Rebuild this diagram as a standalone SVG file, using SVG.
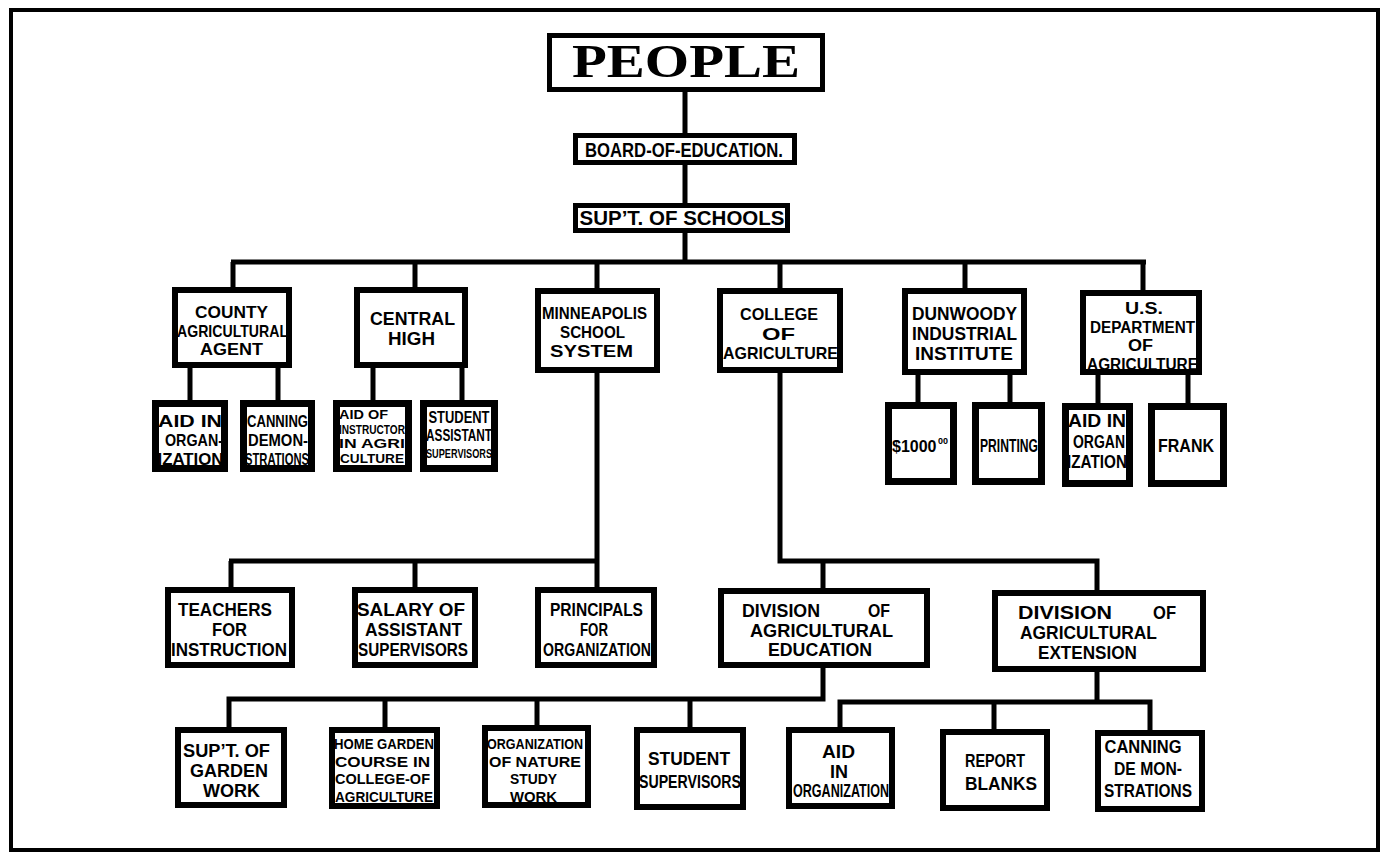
<svg xmlns="http://www.w3.org/2000/svg" width="1388" height="855" viewBox="0 0 1388 855">
<style>
.bg{fill:#fff}
.frame{fill:none;stroke:#000;stroke-width:4}
.b5{fill:#fff;stroke:#000;stroke-width:5}
.b6{fill:#fff;stroke:#000;stroke-width:6}
.b7{fill:#fff;stroke:#000;stroke-width:7}
.con{fill:none;stroke:#000;stroke-width:5}
text{font-family:"Liberation Sans","DejaVu Sans",sans-serif;font-weight:bold;fill:#000;text-anchor:middle}
.st{text-anchor:start}
.big{font-family:"Liberation Serif","DejaVu Serif",serif;font-size:46px}
</style>
<rect class="bg" x="0" y="0" width="1388" height="855"/>
<rect class="frame" x="11" y="10" width="1367" height="840"/>

<g id="connectors">
<path class="con" d="M685 92V133M685 165V203M685 233V262M231 262H1146M233 262V290M415 262V290M597 262V291M780 262V291M965 262V291M1143 262V293"/>
<path class="con" d="M190 368V404M278 368V404M373 368V404M462 368V404M918 375V406M1010 375V406M1098 375V407M1188 375V407"/>
<path class="con" d="M597 373V590M229 561H599M231 561V590M415 561V590"/>
<path class="con" d="M780 373V563.5M778 561H1099.5M823 561V591M1097 561V593"/>
<path class="con" d="M823 668V701.5M226.5 699H825.5M229 699V730M385 699V730M537 699V728M690 699V730"/>
<path class="con" d="M1097 672V704.5M837.5 702H1152.5M840 702V730M994 702V732M1150 702V733"/>
</g>

<g id="people"><rect class="b5" x="549.5" y="35.5" width="273" height="54"/>
<text class="big" x="686" y="77" textLength="228" lengthAdjust="spacingAndGlyphs">PEOPLE</text></g>

<g id="board"><rect class="b5" x="575.5" y="135.5" width="219" height="27"/>
<text x="684" y="157" font-size="20" textLength="198" lengthAdjust="spacingAndGlyphs">BOARD-OF-EDUCATION.</text></g>

<g id="supt"><rect class="b5" x="575.5" y="205.5" width="212" height="25"/>
<text x="682" y="225" font-size="20" textLength="205" lengthAdjust="spacingAndGlyphs">SUP’T.  OF  SCHOOLS</text></g>

<g id="county"><rect class="b6" x="175" y="290" width="114" height="75"/>
<text x="231.5" y="318" font-size="16.5" textLength="73" lengthAdjust="spacingAndGlyphs">COUNTY</text>
<text x="232.5" y="336.5" font-size="16.5" textLength="111" lengthAdjust="spacingAndGlyphs">AGRICULTURAL</text>
<text x="231.5" y="355" font-size="16.5" textLength="63" lengthAdjust="spacingAndGlyphs">AGENT</text></g>

<g id="central"><rect class="b6" x="357" y="290" width="108" height="75"/>
<text x="412.5" y="325" font-size="17.5" textLength="85" lengthAdjust="spacingAndGlyphs">CENTRAL</text>
<text x="411.5" y="345" font-size="17.5" textLength="47" lengthAdjust="spacingAndGlyphs">HIGH</text></g>

<g id="minneapolis"><rect class="b6" x="538" y="291" width="119" height="79"/>
<text x="594.5" y="319" font-size="16.5" textLength="105" lengthAdjust="spacingAndGlyphs">MINNEAPOLIS</text>
<text x="592.5" y="338" font-size="16.5" textLength="65" lengthAdjust="spacingAndGlyphs">SCHOOL</text>
<text x="591.5" y="357" font-size="16.5" textLength="83" lengthAdjust="spacingAndGlyphs">SYSTEM</text></g>

<g id="college"><rect class="b6" x="720" y="291" width="120" height="79"/>
<text x="779" y="320" font-size="17" textLength="78" lengthAdjust="spacingAndGlyphs">COLLEGE</text>
<text x="778.5" y="339.5" font-size="17" textLength="33" lengthAdjust="spacingAndGlyphs">OF</text>
<text x="780.5" y="359" font-size="17" textLength="115" lengthAdjust="spacingAndGlyphs">AGRICULTURE</text></g>

<g id="dunwoody"><rect class="b6" x="905" y="291" width="119" height="81"/>
<text x="964.5" y="320" font-size="17.5" textLength="105" lengthAdjust="spacingAndGlyphs">DUNWOODY</text>
<text x="964.5" y="340" font-size="17.5" textLength="105" lengthAdjust="spacingAndGlyphs">INDUSTRIAL</text>
<text x="964" y="360" font-size="17.5" textLength="98" lengthAdjust="spacingAndGlyphs">INSTITUTE</text></g>

<g id="usda"><rect class="b6" x="1083" y="293" width="116" height="79"/>
<text x="1144" y="314" font-size="16" textLength="38" lengthAdjust="spacingAndGlyphs">U.S.</text>
<text x="1142.5" y="332.5" font-size="16" textLength="105" lengthAdjust="spacingAndGlyphs">DEPARTMENT</text>
<text x="1140.5" y="351" font-size="16" textLength="25" lengthAdjust="spacingAndGlyphs">OF</text>
<text x="1142.5" y="369.5" font-size="16" textLength="111" lengthAdjust="spacingAndGlyphs">AGRICULTURE</text></g>

<g id="county-aid"><rect class="b7" x="155.5" y="403.5" width="69" height="65"/>
<text x="190" y="427" font-size="16.5" textLength="64" lengthAdjust="spacingAndGlyphs">AID IN</text>
<text x="194" y="446" font-size="16.5" textLength="58" lengthAdjust="spacingAndGlyphs">ORGAN-</text>
<text x="190.5" y="465" font-size="16.5" textLength="66" lengthAdjust="spacingAndGlyphs">IZATION</text></g>

<g id="county-canning"><rect class="b7" x="243.5" y="403.5" width="68" height="65"/>
<text x="277.5" y="427" font-size="16.5" textLength="61" lengthAdjust="spacingAndGlyphs">CANNING</text>
<text x="278" y="446" font-size="16.5" textLength="60" lengthAdjust="spacingAndGlyphs">DEMON-</text>
<text x="277" y="465" font-size="16.5" textLength="64" lengthAdjust="spacingAndGlyphs">STRATIONS</text></g>

<g id="central-aid"><rect class="b7" x="336.5" y="403.5" width="72" height="65"/>
<text class="st" x="339" y="419" font-size="13" textLength="49" lengthAdjust="spacingAndGlyphs">AID  OF</text>
<text x="372" y="433.5" font-size="12" textLength="66" lengthAdjust="spacingAndGlyphs">INSTRUCTOR</text>
<text x="372" y="448" font-size="13" textLength="66" lengthAdjust="spacingAndGlyphs">IN  AGRI</text>
<text x="372" y="462.5" font-size="13" textLength="64" lengthAdjust="spacingAndGlyphs">CULTURE</text></g>

<g id="central-student"><rect class="b7" x="423.5" y="403.5" width="71" height="65"/>
<text x="459" y="423" font-size="16" textLength="61" lengthAdjust="spacingAndGlyphs">STUDENT</text>
<text x="459" y="441" font-size="16" textLength="66" lengthAdjust="spacingAndGlyphs">ASSISTANT</text>
<text x="459" y="458" font-size="13" textLength="66" lengthAdjust="spacingAndGlyphs">SUPERVISORS</text></g>

<g id="dunwoody-money"><rect class="b7" x="888.5" y="405.5" width="65" height="76"/>
<text class="st" x="892" y="452" font-size="16">$1000</text>
<text class="st" x="938" y="444" font-size="9">00</text></g>

<g id="dunwoody-printing"><rect class="b7" x="975.5" y="405.5" width="66" height="76"/>
<text x="1009" y="452" font-size="18" textLength="58" lengthAdjust="spacingAndGlyphs">PRINTING</text></g>

<g id="usda-aid"><rect class="b7" x="1065.5" y="406.5" width="64" height="77"/>
<text x="1097" y="427" font-size="18" textLength="58" lengthAdjust="spacingAndGlyphs">AID  IN</text>
<text x="1099" y="447.5" font-size="18" textLength="52" lengthAdjust="spacingAndGlyphs">ORGAN</text>
<text x="1097" y="468" font-size="18" textLength="60" lengthAdjust="spacingAndGlyphs">IZATION</text></g>

<g id="usda-frank"><rect class="b7" x="1151.5" y="406.5" width="72" height="77"/>
<text x="1186" y="452" font-size="19" textLength="56" lengthAdjust="spacingAndGlyphs">FRANK</text></g>

<g id="teachers"><rect class="b6" x="168" y="590" width="124" height="75"/>
<text x="225" y="616" font-size="18" textLength="94" lengthAdjust="spacingAndGlyphs">TEACHERS</text>
<text x="229.5" y="636" font-size="18" textLength="35" lengthAdjust="spacingAndGlyphs">FOR</text>
<text x="229" y="656" font-size="18" textLength="116" lengthAdjust="spacingAndGlyphs">INSTRUCTION</text></g>

<g id="salary"><rect class="b6" x="355" y="590" width="120" height="75"/>
<text x="411" y="616" font-size="18" textLength="108" lengthAdjust="spacingAndGlyphs">SALARY  OF</text>
<text x="413.5" y="636" font-size="18" textLength="97" lengthAdjust="spacingAndGlyphs">ASSISTANT</text>
<text x="413" y="656" font-size="18" textLength="110" lengthAdjust="spacingAndGlyphs">SUPERVISORS</text></g>

<g id="principals"><rect class="b6" x="538" y="590" width="116" height="75"/>
<text x="596.5" y="616" font-size="18" textLength="93" lengthAdjust="spacingAndGlyphs">PRINCIPALS</text>
<text x="594" y="636" font-size="18" textLength="28" lengthAdjust="spacingAndGlyphs">FOR</text>
<text x="597" y="656" font-size="18" textLength="108" lengthAdjust="spacingAndGlyphs">ORGANIZATION</text></g>

<g id="div-education"><rect class="b6" x="721" y="591" width="206" height="74"/>
<text class="st" x="742" y="617" font-size="17.5" textLength="78" lengthAdjust="spacingAndGlyphs">DIVISION</text>
<text class="st" x="868" y="617" font-size="17.5" textLength="22" lengthAdjust="spacingAndGlyphs">OF</text>
<text x="821.5" y="636.5" font-size="17.5" textLength="143" lengthAdjust="spacingAndGlyphs">AGRICULTURAL</text>
<text x="820" y="656" font-size="17.5" textLength="104" lengthAdjust="spacingAndGlyphs">EDUCATION</text></g>

<g id="div-extension"><rect class="b6" x="995" y="593" width="208" height="76"/>
<text class="st" x="1018" y="619" font-size="18" textLength="94" lengthAdjust="spacingAndGlyphs">DIVISION</text>
<text class="st" x="1153" y="619" font-size="18" textLength="23" lengthAdjust="spacingAndGlyphs">OF</text>
<text x="1088.5" y="639" font-size="18" textLength="137" lengthAdjust="spacingAndGlyphs">AGRICULTURAL</text>
<text x="1087.5" y="659" font-size="18" textLength="99" lengthAdjust="spacingAndGlyphs">EXTENSION</text></g>

<g id="supt-garden"><rect class="b6" x="178" y="730" width="106" height="75"/>
<text x="226.5" y="757" font-size="18" textLength="87" lengthAdjust="spacingAndGlyphs">SUP’T.  OF</text>
<text x="229" y="777" font-size="18" textLength="78" lengthAdjust="spacingAndGlyphs">GARDEN</text>
<text x="231.5" y="797" font-size="18" textLength="57" lengthAdjust="spacingAndGlyphs">WORK</text></g>

<g id="home-garden"><rect class="b6" x="332" y="730" width="105" height="76"/>
<text x="384" y="749" font-size="15.5" textLength="100" lengthAdjust="spacingAndGlyphs">HOME GARDEN</text>
<text x="382.5" y="766.5" font-size="15.5" textLength="95" lengthAdjust="spacingAndGlyphs">COURSE  IN</text>
<text x="382.5" y="784" font-size="15.5" textLength="95" lengthAdjust="spacingAndGlyphs">COLLEGE-OF</text>
<text x="384" y="801.5" font-size="15.5" textLength="98" lengthAdjust="spacingAndGlyphs">AGRICULTURE</text></g>

<g id="nature-study"><rect class="b6" x="485" y="728" width="103" height="77"/>
<text x="535" y="749" font-size="15.5" textLength="96" lengthAdjust="spacingAndGlyphs">ORGANIZATION</text>
<text x="535" y="766.5" font-size="15.5" textLength="92" lengthAdjust="spacingAndGlyphs">OF  NATURE</text>
<text x="533.5" y="784" font-size="15.5" textLength="47" lengthAdjust="spacingAndGlyphs">STUDY</text>
<text x="533.5" y="801.5" font-size="15.5" textLength="47" lengthAdjust="spacingAndGlyphs">WORK</text></g>

<g id="student-supervisors"><rect class="b6" x="637" y="730" width="106" height="77"/>
<text x="689" y="765" font-size="19" textLength="82" lengthAdjust="spacingAndGlyphs">STUDENT</text>
<text x="690" y="788" font-size="19" textLength="102" lengthAdjust="spacingAndGlyphs">SUPERVISORS</text></g>

<g id="ext-aid"><rect class="b6" x="789" y="730" width="103" height="76"/>
<text x="838.5" y="758" font-size="17.5" textLength="33" lengthAdjust="spacingAndGlyphs">AID</text>
<text x="839" y="777.5" font-size="17.5" textLength="18" lengthAdjust="spacingAndGlyphs">IN</text>
<text x="841" y="797" font-size="17.5" textLength="96" lengthAdjust="spacingAndGlyphs">ORGANIZATION</text></g>

<g id="report-blanks"><rect class="b6" x="943" y="732" width="104" height="76"/>
<text x="995" y="767" font-size="19" textLength="60" lengthAdjust="spacingAndGlyphs">REPORT</text>
<text x="1001" y="790" font-size="19" textLength="72" lengthAdjust="spacingAndGlyphs">BLANKS</text></g>

<g id="ext-canning"><rect class="b6" x="1098" y="733" width="104" height="76"/>
<text x="1143" y="753" font-size="19" textLength="77" lengthAdjust="spacingAndGlyphs">CANNING</text>
<text x="1148" y="775" font-size="19" textLength="68" lengthAdjust="spacingAndGlyphs">DE MON-</text>
<text x="1148" y="797" font-size="19" textLength="88" lengthAdjust="spacingAndGlyphs">STRATIONS</text></g>
</svg>
